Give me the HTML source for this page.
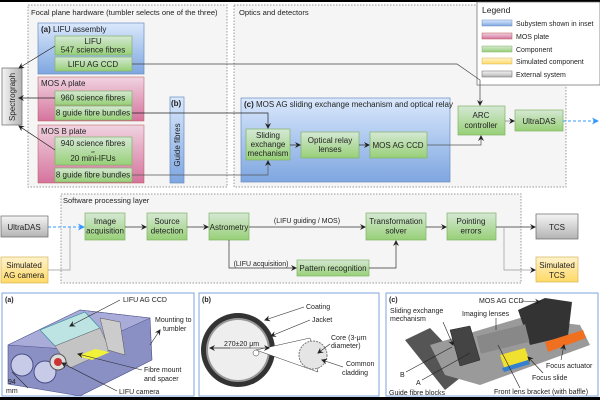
<!DOCTYPE html>
<html><head><meta charset="utf-8"><style>
html,body{margin:0;padding:0;background:#fff}
svg{display:block}
text{font-family:"Liberation Sans",sans-serif;font-size:8px;fill:#222}
</style></head><body>
<svg width="600" height="400" viewBox="0 0 600 400" xmlns="http://www.w3.org/2000/svg">
<defs>
<linearGradient id="gb" x1="0" y1="0" x2="0" y2="1"><stop offset="0" stop-color="#dae8fc"/><stop offset="1" stop-color="#7ea6e0"/></linearGradient>
<linearGradient id="gp" x1="0" y1="0" x2="0" y2="1"><stop offset="0" stop-color="#f0d3e0"/><stop offset="1" stop-color="#d5739d"/></linearGradient>
<linearGradient id="gg" x1="0" y1="0" x2="0" y2="1"><stop offset="0" stop-color="#d5e8d4"/><stop offset="1" stop-color="#97d077"/></linearGradient>
<linearGradient id="gy" x1="0" y1="0" x2="0" y2="1"><stop offset="0" stop-color="#fff2cc"/><stop offset="1" stop-color="#ffd966"/></linearGradient>
<linearGradient id="gx" x1="0" y1="0" x2="0" y2="1"><stop offset="0" stop-color="#f5f5f5"/><stop offset="1" stop-color="#b3b3b3"/></linearGradient>
<linearGradient id="gxv" x1="0" y1="0" x2="1" y2="0"><stop offset="0" stop-color="#f5f5f5"/><stop offset="1" stop-color="#b3b3b3"/></linearGradient>
<marker id="ah" markerWidth="6" markerHeight="6" refX="5" refY="3" orient="auto" markerUnits="userSpaceOnUse"><path d="M0,0 L6,3 L0,6 L2,3z" fill="#222"/></marker>
<marker id="ahb" markerWidth="7" markerHeight="7" refX="6" refY="3.5" orient="auto" markerUnits="userSpaceOnUse"><path d="M0,0 L7,3.5 L0,7 L2,3.5z" fill="#3399ff"/></marker>
</defs>
<rect x="0" y="0" width="600" height="2" fill="#000"/>
<rect x="0" y="397" width="600" height="3" fill="#000"/>

<rect x="28" y="5" width="199" height="182" fill="#f5f5f5" stroke="#999" stroke-dasharray="1.5,1.5"/>
<text x="31" y="15" style="font-size:7.6px">Focal plane hardware (tumbler selects one of the three)</text>
<rect x="234" y="5" width="332" height="182" fill="#f5f5f5" stroke="#999" stroke-dasharray="1.5,1.5"/>
<text x="239" y="15" style="font-size:7.6px">Optics and detectors</text>

<rect x="2" y="68" width="20" height="57" fill="url(#gxv)" stroke="#666" stroke-width="0.7"/>
<text transform="translate(15,97) rotate(-90)" text-anchor="middle">Spectrograph</text>

<rect x="38" y="23" width="106" height="51" fill="url(#gb)" stroke="#6c8ebf" stroke-width="0.7"/>
<text x="41" y="32"><tspan font-weight="bold">(a)</tspan> LIFU assembly</text>
<rect x="55" y="36" width="77" height="19" fill="url(#gg)" stroke="#82b366" stroke-width="0.7"/>
<text x="93" y="44" text-anchor="middle">LIFU</text><text x="93" y="52.5" text-anchor="middle">547 science fibres</text>
<rect x="55" y="57" width="77" height="14" fill="url(#gg)" stroke="#82b366" stroke-width="0.7"/>
<text x="93" y="67" text-anchor="middle">LIFU AG CCD</text>

<rect x="38" y="77" width="106" height="44" fill="url(#gp)" stroke="#b85450" stroke-width="0.5"/>
<text x="41" y="86">MOS A plate</text>
<rect x="55" y="91" width="77" height="14" fill="url(#gg)" stroke="#82b366" stroke-width="0.7"/>
<text x="93" y="100.5" text-anchor="middle">960 science fibres</text>
<rect x="55" y="106" width="77" height="14" fill="url(#gg)" stroke="#82b366" stroke-width="0.7"/>
<text x="93" y="115.5" text-anchor="middle">8 guide fibre bundles</text>

<rect x="38" y="125" width="106" height="58" fill="url(#gp)" stroke="#b85450" stroke-width="0.5"/>
<text x="41" y="134">MOS B plate</text>
<rect x="55" y="137" width="77" height="28" fill="url(#gg)" stroke="#82b366" stroke-width="0.7"/>
<text x="93" y="146" text-anchor="middle">940 science fibres</text>
<text x="93" y="153" text-anchor="middle" style="font-size:4px">or</text>
<text x="93" y="161" text-anchor="middle">20 mini-IFUs</text>
<rect x="55" y="168" width="77" height="14" fill="url(#gg)" stroke="#82b366" stroke-width="0.7"/>
<text x="93" y="177.5" text-anchor="middle">8 guide fibre bundles</text>

<rect x="170" y="97" width="14" height="86" fill="url(#gb)" stroke="#6c8ebf" stroke-width="0.7"/>
<text x="171" y="106" font-weight="bold">(b)</text>
<text transform="translate(180,145) rotate(-90)" text-anchor="middle">Guide fibres</text>

<rect x="241" y="98" width="209" height="84" fill="url(#gb)" stroke="#6c8ebf" stroke-width="0.7"/>
<text x="244" y="107"><tspan font-weight="bold">(c)</tspan> MOS AG sliding exchange mechanism and optical relay</text>
<rect x="246" y="129" width="44" height="31" fill="url(#gg)" stroke="#82b366" stroke-width="0.7"/>
<text x="268" y="138" text-anchor="middle">Sliding</text><text x="268" y="147" text-anchor="middle">exchange</text><text x="268" y="156" text-anchor="middle">mechanism</text>
<rect x="301" y="132" width="58" height="26" fill="url(#gg)" stroke="#82b366" stroke-width="0.7"/>
<text x="330" y="143" text-anchor="middle">Optical relay</text><text x="330" y="152" text-anchor="middle">lenses</text>
<rect x="370" y="132" width="57" height="26" fill="url(#gg)" stroke="#82b366" stroke-width="0.7"/>
<text x="398" y="148" text-anchor="middle">MOS AG CCD</text>

<rect x="458" y="106" width="47" height="29" fill="url(#gg)" stroke="#82b366" stroke-width="0.7"/>
<text x="481" y="118" text-anchor="middle">ARC</text><text x="481" y="128" text-anchor="middle">controller</text>
<rect x="515" y="110" width="48" height="21" fill="url(#gg)" stroke="#82b366" stroke-width="0.7"/>
<text x="539" y="124" text-anchor="middle">UltraDAS</text>

<rect x="477" y="2" width="123" height="83" fill="#fff" stroke="#666" stroke-width="0.7"/>
<text x="482" y="13" style="font-size:8.5px">Legend</text>
<rect x="482" y="20" width="30" height="6" fill="url(#gb)" stroke="#6c8ebf" stroke-width="0.5"/><text x="516" y="26" style="font-size:7px">Subystem shown in inset</text>
<rect x="482" y="33" width="30" height="6" fill="url(#gp)" stroke="#b85450" stroke-width="0.5"/><text x="516" y="39" style="font-size:7px">MOS plate</text>
<rect x="482" y="46" width="30" height="6" fill="url(#gg)" stroke="#82b366" stroke-width="0.5"/><text x="516" y="52" style="font-size:7px">Component</text>
<rect x="482" y="58" width="30" height="6" fill="url(#gy)" stroke="#d6b656" stroke-width="0.5"/><text x="516" y="64" style="font-size:7px">Simulated component</text>
<rect x="482" y="71" width="30" height="6" fill="url(#gx)" stroke="#666" stroke-width="0.5"/><text x="516" y="77" style="font-size:7px">External system</text>

<g fill="none" stroke="#222" stroke-width="0.7">
<line x1="55" y1="46" x2="19" y2="68" marker-end="url(#ah)"/>
<line x1="55" y1="98" x2="19" y2="98" marker-end="url(#ah)"/>
<line x1="55" y1="150" x2="19" y2="126" marker-end="url(#ah)"/>
<polyline points="132,64 457,64 480,80 480,105" stroke="#444" marker-end="url(#ah)"/>
<polyline points="132,113 268,113 268,128" marker-end="url(#ah)"/>
<polyline points="132,175 268,175 268,161" stroke="#555" marker-end="url(#ah)"/>
<line x1="290" y1="145" x2="300" y2="145" marker-end="url(#ah)"/>
<line x1="359" y1="145" x2="369" y2="145" marker-end="url(#ah)"/>
<polyline points="427,145 481,145 481,136" stroke="#555" marker-end="url(#ah)"/>
<line x1="505" y1="121" x2="514" y2="121" stroke="#777" marker-end="url(#ah)"/>
</g>
<line x1="563" y1="121" x2="598" y2="121" stroke="#3399ff" stroke-width="1" stroke-dasharray="3,2" marker-end="url(#ahb)"/>

<rect x="61" y="194" width="460" height="89" fill="#f5f5f5" stroke="#999" stroke-dasharray="1.5,1.5"/>
<text x="63" y="203" style="font-size:7.5px">Software processing layer</text>
<rect x="1" y="216" width="47" height="21" fill="url(#gx)" stroke="#666" stroke-width="0.7"/>
<text x="24" y="230" text-anchor="middle">UltraDAS</text>
<rect x="1" y="257" width="47" height="26" fill="url(#gy)" stroke="#d6b656" stroke-width="0.7"/>
<text x="24" y="268" text-anchor="middle">Simulated</text><text x="24" y="278" text-anchor="middle">AG camera</text>
<g fill="url(#gg)" stroke="#82b366" stroke-width="0.7">
<rect x="85" y="213" width="40" height="27"/>
<rect x="147" y="213" width="40" height="27"/>
<rect x="209" y="213" width="40" height="27"/>
<rect x="366" y="213" width="60" height="27"/>
<rect x="447" y="213" width="49" height="27"/>
<rect x="297" y="260" width="72" height="16"/>
</g>
<text x="105" y="224" text-anchor="middle">Image</text><text x="105" y="233.5" text-anchor="middle">acquisition</text>
<text x="167" y="224" text-anchor="middle">Source</text><text x="167" y="233.5" text-anchor="middle">detection</text>
<text x="229" y="230" text-anchor="middle">Astrometry</text>
<text x="396" y="224" text-anchor="middle">Transformation</text><text x="396" y="233.5" text-anchor="middle">solver</text>
<text x="471" y="224" text-anchor="middle">Pointing</text><text x="471" y="233.5" text-anchor="middle">errors</text>
<text x="333" y="271" text-anchor="middle">Pattern recognition</text>
<rect x="536" y="214" width="42" height="25" fill="url(#gx)" stroke="#666" stroke-width="0.7"/>
<text x="557" y="230" text-anchor="middle">TCS</text>
<rect x="536" y="257" width="42" height="25" fill="url(#gy)" stroke="#d6b656" stroke-width="0.7"/>
<text x="557" y="268" text-anchor="middle">Simulated</text><text x="557" y="278" text-anchor="middle">TCS</text>
<text x="307" y="223" text-anchor="middle" style="font-size:7px">(LIFU guiding / MOS)</text>
<text x="261" y="266" text-anchor="middle" style="font-size:7px">(LIFU acquisition)</text>
<g fill="none" stroke="#333" stroke-width="0.7">
<polyline points="48,270 70,270 70,227" stroke="#999"/>
<line x1="125" y1="227" x2="146" y2="227" marker-end="url(#ah)"/>
<line x1="187" y1="227" x2="208" y2="227" marker-end="url(#ah)"/>
<line x1="249" y1="227" x2="365" y2="227" marker-end="url(#ah)"/>
<polyline points="229,240 229,268 296,268" marker-end="url(#ah)"/>
<polyline points="369,268 396,268 396,241" marker-end="url(#ah)"/>
<line x1="426" y1="227" x2="446" y2="227" marker-end="url(#ah)"/>
<line x1="496" y1="227" x2="535" y2="227" marker-end="url(#ah)"/>
<polyline points="504,227 504,270 535,270" stroke="#999" marker-end="url(#ah)"/>
</g>
<line x1="48" y1="227" x2="84" y2="227" stroke="#3399ff" stroke-width="1" stroke-dasharray="3,2" marker-end="url(#ahb)"/>

<rect x="2" y="293" width="192" height="103" fill="#fff" stroke="#7ea6e0" stroke-width="1"/>
<text x="5" y="302" font-weight="bold" style="font-size:7px">(a)</text>
<polygon points="8,345 80,310 150,318 152,360 80,396 8,384" fill="#8a8fc4" stroke="#4a4f8a" stroke-width="0.6"/>
<polygon points="8,345 80,310 150,318 80,350" fill="#a9acd8" stroke="#4a4f8a" stroke-width="0.5"/>
<circle cx="22" cy="365" r="11" fill="#c8cbe8" stroke="#4a4f8a"/>
<circle cx="45" cy="372" r="11" fill="#c8cbe8" stroke="#4a4f8a"/>
<polygon points="40,330 85,312 100,328 55,346" fill="#bde3e3" stroke="#2a8a9a" stroke-width="0.6"/>
<polygon points="55,346 100,328 110,350 70,368" fill="#c4c4c4" stroke="#666" stroke-width="0.5"/>
<polygon points="78,356 95,349 110,352 92,360" fill="#f2f23a"/>
<circle cx="58" cy="362" r="8" fill="#ddd" stroke="#555"/>
<circle cx="58" cy="362" r="4" fill="#c33"/>
<polygon points="100,318 120,322 125,355 108,350" fill="#ccc" stroke="#555" stroke-width="0.5"/>
<text x="123" y="302" style="font-size:7px">LIFU AG CCD</text>
<line x1="120" y1="300" x2="70" y2="326" stroke="#222" stroke-width="0.6" marker-end="url(#ah)"/>
<text x="155" y="322" style="font-size:7px">Mounting to</text><text x="163" y="331" style="font-size:7px">tumbler</text>
<line x1="150" y1="345" x2="160" y2="330" stroke="#222" stroke-width="0.6" marker-end="url(#ah)"/>
<text x="144" y="372" style="font-size:7px">Fibre mount</text><text x="144" y="381" style="font-size:7px">and spacer</text>
<line x1="142" y1="370" x2="78" y2="354" stroke="#222" stroke-width="0.6" marker-end="url(#ah)"/>
<text x="119" y="394" style="font-size:7px">LIFU camera</text>
<line x1="117" y1="391" x2="62" y2="363" stroke="#222" stroke-width="0.6" marker-end="url(#ah)"/>
<text x="8" y="384" style="font-size:7px">94</text><text x="6" y="393" style="font-size:7px">mm</text>
<line x1="12" y1="372" x2="28" y2="388" stroke="#222" stroke-width="0.6"/>

<rect x="199" y="293" width="180" height="103" fill="#fff" stroke="#7ea6e0" stroke-width="1"/>
<text x="202" y="302" font-weight="bold" style="font-size:7px">(b)</text>
<circle cx="238" cy="350" r="37" fill="#333"/>
<circle cx="238" cy="350" r="32" fill="#999"/>
<circle cx="238" cy="350" r="30" fill="#eee"/>
<polygon points="256,350 310,338 318,372" fill="#fff" stroke="#333" stroke-width="0.5"/>
<circle cx="256" cy="353" r="3" fill="#fff" stroke="#333" stroke-width="0.5"/>
<circle cx="313" cy="355" r="14" fill="#e5e5e5" stroke="#777" stroke-dasharray="2,1"/>
<line x1="212" y1="348" x2="269" y2="348" stroke="#222" stroke-width="0.6" marker-end="url(#ah)"/>
<line x1="230" y1="348" x2="210" y2="348" stroke="#222" stroke-width="0.6" marker-end="url(#ah)"/>
<text x="224" y="346" style="font-size:7px">270±20 μm</text>
<text x="306" y="309" style="font-size:7px">Coating</text>
<line x1="304" y1="307" x2="265" y2="320" stroke="#222" stroke-width="0.6" marker-end="url(#ah)"/>
<text x="312" y="322" style="font-size:7px">Jacket</text>
<line x1="310" y1="320" x2="271" y2="336" stroke="#222" stroke-width="0.6" marker-end="url(#ah)"/>
<text x="331" y="340" style="font-size:7px">Core (3-μm</text><text x="331" y="348" style="font-size:7px">diameter)</text>
<line x1="330" y1="344" x2="318" y2="353" stroke="#222" stroke-width="0.6" marker-end="url(#ah)"/>
<text x="346" y="366" style="font-size:7px">Common</text><text x="342" y="375" style="font-size:7px">cladding</text>
<line x1="343" y1="367" x2="322" y2="360" stroke="#222" stroke-width="0.6" marker-end="url(#ah)"/>

<rect x="386" y="293" width="212" height="103" fill="#fff" stroke="#7ea6e0" stroke-width="1"/>
<text x="389" y="302" font-weight="bold" style="font-size:7px">(c)</text>
<polygon points="405,340 430,328 470,370 445,390" fill="#555"/>
<polygon points="430,345 520,318 580,325 590,345 480,385 445,375" fill="#9a9a9a"/>
<polygon points="450,330 470,326 480,360 460,366" fill="#444" stroke="#222" stroke-width="0.5"/>
<polygon points="518,310 545,298 572,302 568,336 530,345" fill="#333"/>
<rect x="478" y="330" width="50" height="18" fill="#888" transform="rotate(-14 503 339)"/>
<polygon points="545,342 583,330 586,338 548,352" fill="#f07020"/>
<polygon points="500,355 525,348 530,362 505,370" fill="#f0e030"/>
<polygon points="502,368 528,360 530,364 504,372" fill="#3380d0"/>
<text x="479" y="303" style="font-size:7px">MOS AG CCD</text>
<line x1="521" y1="301" x2="540" y2="302" stroke="#222" stroke-width="0.6" marker-end="url(#ah)"/>
<text x="390" y="313" style="font-size:7px">Sliding exchange</text><text x="390" y="321" style="font-size:7px">mechanism</text>
<line x1="443" y1="322" x2="453" y2="345" stroke="#222" stroke-width="0.6" marker-end="url(#ah)"/>
<text x="462" y="316" style="font-size:7px">Imaging lenses</text>
<line x1="496" y1="318" x2="496" y2="330" stroke="#222" stroke-width="0.6"/>
<text x="400" y="377" style="font-size:7px">B</text>
<text x="416" y="385" style="font-size:7px">A</text>
<line x1="406" y1="372" x2="452" y2="347" stroke="#222" stroke-width="0.6"/>
<line x1="422" y1="380" x2="470" y2="353" stroke="#222" stroke-width="0.6"/>
<text x="389" y="395" style="font-size:7px">Guide fibre blocks</text>
<text x="546" y="368" style="font-size:7px">Focus actuator</text>
<line x1="561" y1="360" x2="564" y2="345" stroke="#222" stroke-width="0.6" marker-end="url(#ah)"/>
<text x="532" y="380" style="font-size:7px">Focus slide</text>
<line x1="543" y1="373" x2="528" y2="357" stroke="#222" stroke-width="0.6" marker-end="url(#ah)"/>
<text x="494" y="394" style="font-size:7px">Front lens bracket (with baffle)</text>
<line x1="520" y1="388" x2="498" y2="345" stroke="#222" stroke-width="0.6"/>
</svg>
</body></html>
